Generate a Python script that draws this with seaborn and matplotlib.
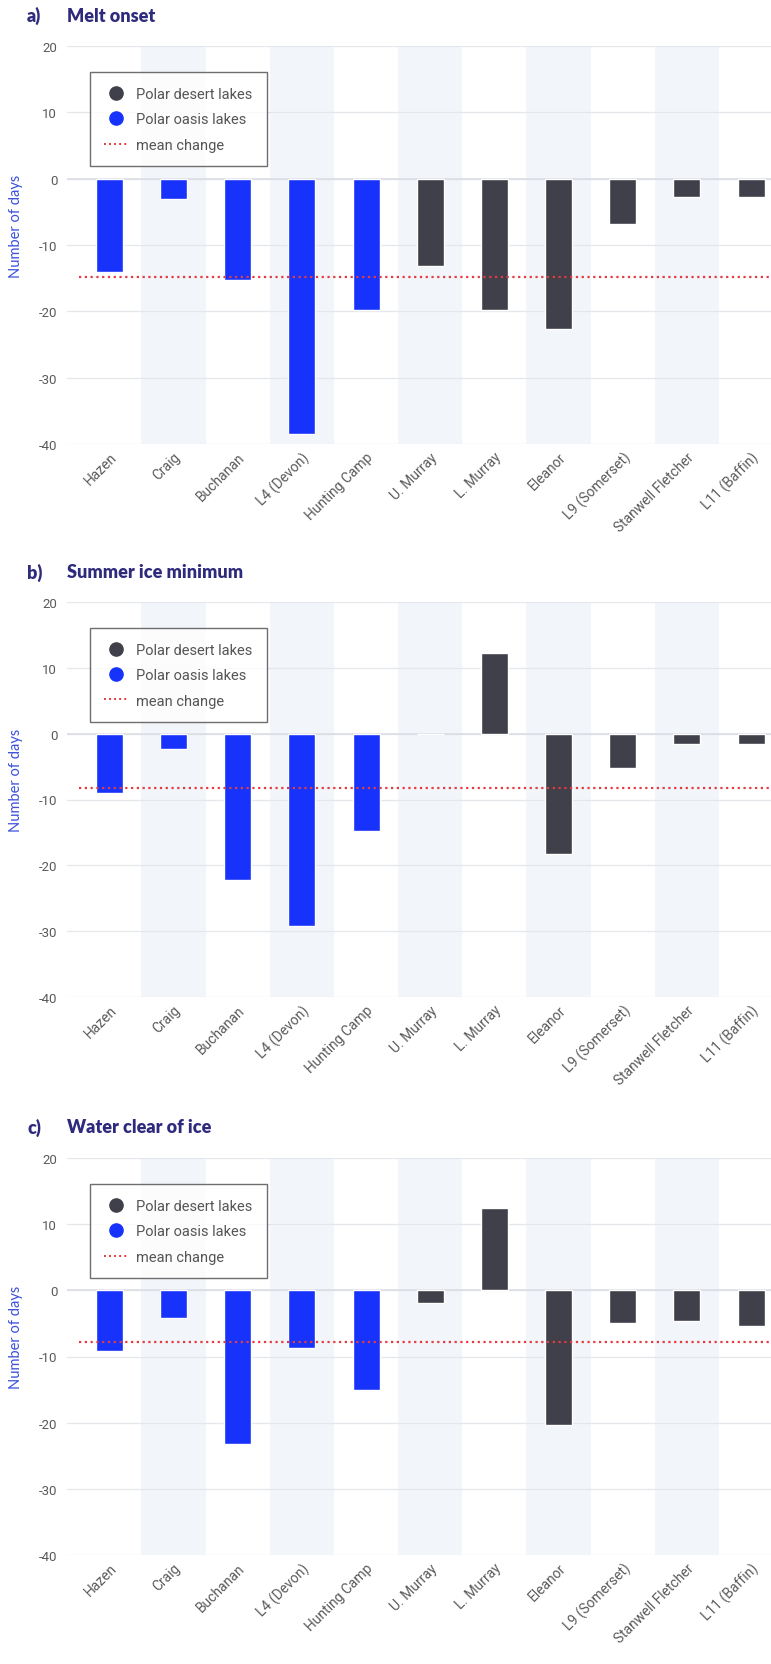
import pandas as pd
import matplotlib.pyplot as plt
from matplotlib.lines import Line2D
import seaborn as sns

lakes = ["Hazen", "Craig", "Buchanan", "L4 (Devon)", "Hunting Camp", "U. Murray",
         "L. Murray", "Eleanor", "L9 (Somerset)", "Stanwell Fletcher", "L11 (Baffin)"]
groups = ["Polar oasis lakes"] * 5 + ["Polar desert lakes"] * 6

melt_onset = [-14.1, -3.1, -15.3, -38.5, -19.8, -13.2, -19.8, -22.6, -6.8, -2.8, -2.8]
ice_minimum = [-9.0, -2.4, -22.2, -29.2, -14.8, 0.0, 12.2, -18.3, -5.2, -1.6, -1.6]
clear_of_ice = [-9.1, -4.2, -23.2, -8.7, -15.0, -1.9, 12.5, -20.4, -5.0, -4.7, -5.4]

panel_letters = ["a)", "b)", "c)"]
panel_titles = ["Melt onset", "Summer ice minimum", "Water clear of ice"]
mean_change = [-14.8, -8.3, -7.8]
yticks = [20, 10, 0, -10, -20, -30, -40]

rows = []
for title, vals in zip(panel_titles, [melt_onset, ice_minimum, clear_of_ice]):
    for lake, grp, v in zip(lakes, groups, vals):
        rows.append({"panel": title, "lake": lake, "group": grp, "days": v})
df = pd.DataFrame(rows)

sns.set_theme(style="white")
plt.rcParams["font.family"] = ["Roboto", "DejaVu Sans"]

BLUE = "#1733fb"
DARK = "#3f4049"
palette = {"Polar oasis lakes": BLUE, "Polar desert lakes": DARK}

fig = plt.figure(figsize=(7.71, 16.65), dpi=100)
H = 1665.0
W = 771.0
tops = [47, 603, 1159]
bottoms = [445, 998, 1556]
title_y = [16, 573, 1128]

for k, title in enumerate(panel_titles):
    top, bot = tops[k], bottoms[k]
    ax = fig.add_axes([67 / W, 1 - bot / H, 1 - 67 / W, (bot - top) / H])
    for i in range(1, len(lakes), 2):
        ax.axvspan(i - 0.5, i + 0.5, color="#f2f5fa", zorder=0, lw=0)
    sub = df[df["panel"] == title]
    sns.barplot(data=sub, x="lake", y="days", hue="group", order=lakes,
                hue_order=["Polar desert lakes", "Polar oasis lakes"],
                palette=palette, dodge=False, width=0.42, saturation=1,
                legend=False, ax=ax, zorder=3)
    ax.set_xlim(-0.66, 10.31)
    ax.set_ylim(-40, 20)
    ax.set_yticks(yticks)
    ax.set_yticklabels([str(t) for t in yticks], color="#5a5a5a", fontsize=9.5)
    ax.yaxis.grid(True, color="#e4e7ec", lw=0.9)
    ax.set_axisbelow(True)
    for s in ax.spines.values():
        s.set_visible(False)
    ax.axhline(0, color="#d9dce2", lw=1.1, zorder=2)
    ax.plot([-0.47, 10.31], [mean_change[k]] * 2, ls=(0, (1, 1.6)),
            color="#e53a3f", lw=1.6, zorder=4)
    ax.tick_params(axis="y", length=5, color="#e4e7ec", pad=2)
    ax.tick_params(axis="x", length=0, pad=4)
    ax.set_xticks(range(len(lakes)))
    ax.set_xticklabels(lakes, rotation=45, ha="right", rotation_mode="anchor",
                       color="#5a5a5a", fontsize=10)
    ax.set_xlabel("")
    ax.set_ylabel("Number of days", color="#3b50dc", fontsize=10.5,
                  family=["Lato", "DejaVu Sans"])
    ax.yaxis.set_label_coords(-0.062, 0.55)

    handles = [
        Line2D([], [], marker="o", ls="", color=DARK, markersize=9.5, label="Polar desert lakes"),
        Line2D([], [], marker="o", ls="", color=BLUE, markersize=9.5, label="Polar oasis lakes"),
        Line2D([], [], ls=(0, (1, 1.6)), color="#e53a3f", lw=1.4, label="mean change"),
    ]
    leg = ax.legend(handles=handles, loc="upper left", bbox_to_anchor=(0.022, 0.952),
                    frameon=True, fancybox=False, fontsize=10.5, handlelength=1.6,
                    handletextpad=0.6, borderpad=1.0, labelspacing=0.78)
    leg.get_frame().set_edgecolor("#4a4a4a")
    leg.get_frame().set_linewidth(1.0)
    for t in leg.get_texts():
        t.set_color("#555555")
    leg.set_zorder(5)

    fig.text(27 / W, 1 - title_y[k] / H, panel_letters[k], color="#2e2a7c",
             fontsize=13, fontweight="heavy", va="center",
             family=["Lato", "DejaVu Sans"])
    fig.text(67 / W, 1 - title_y[k] / H, title, color="#2e2a7c",
             fontsize=13, fontweight="heavy", va="center",
             family=["Lato", "DejaVu Sans"])

fig.savefig("out.png", dpi=100)
